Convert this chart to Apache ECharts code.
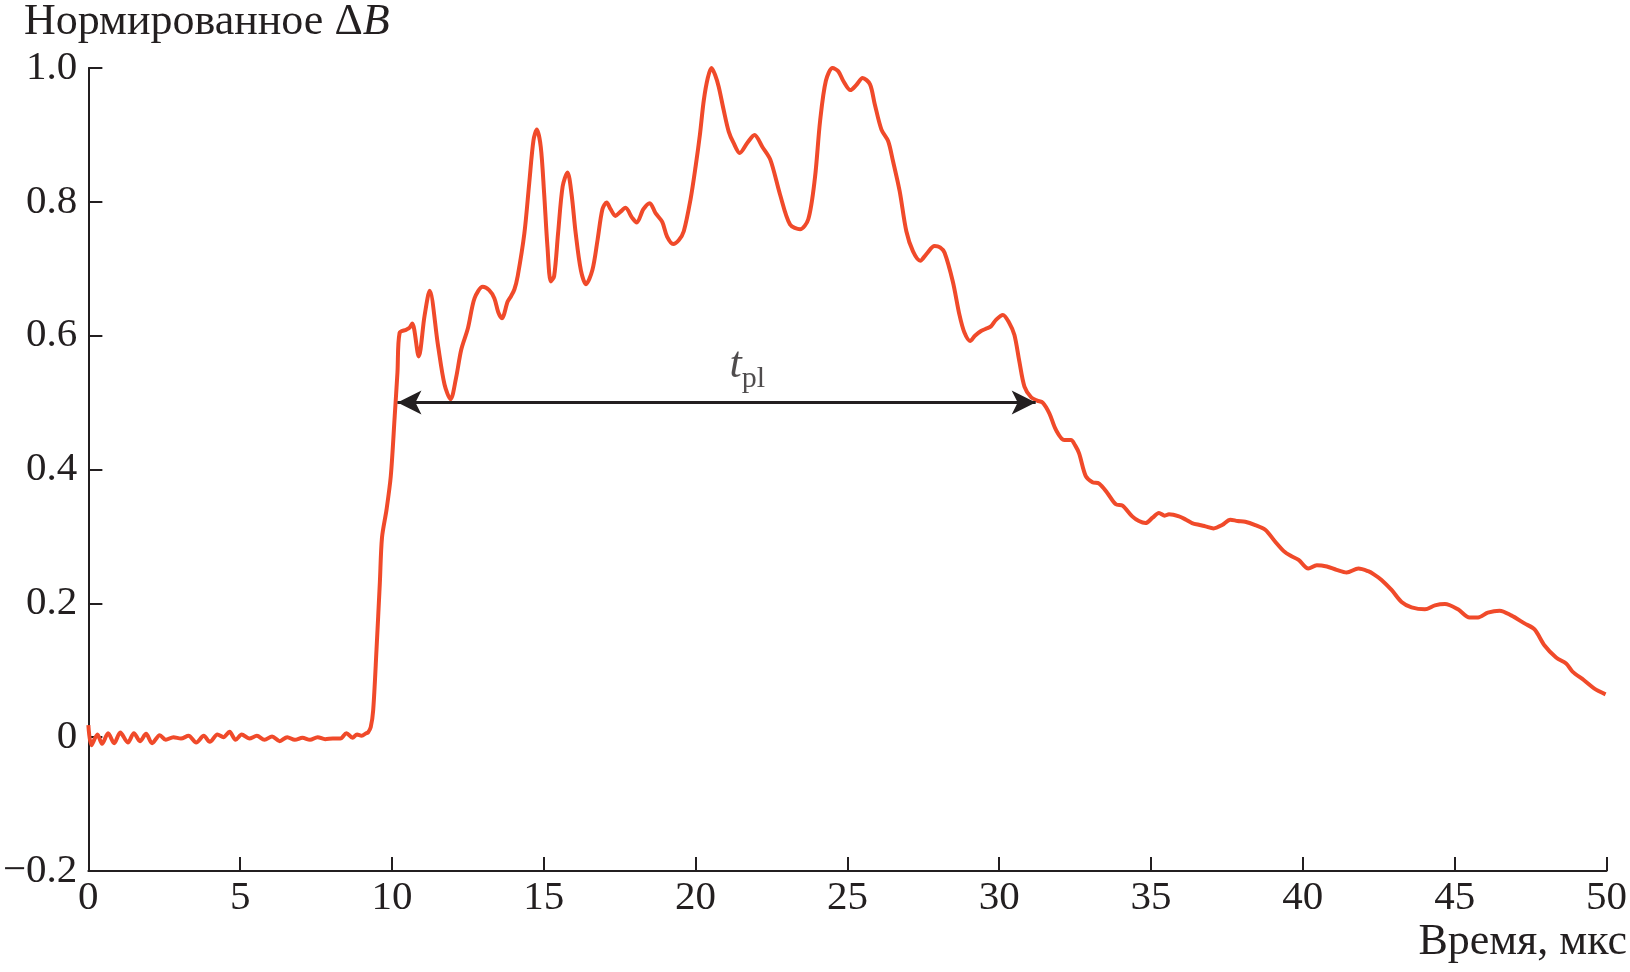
<!DOCTYPE html>
<html>
<head>
<meta charset="utf-8">
<script src="https://cdn.jsdelivr.net/npm/echarts@6/dist/echarts.min.js"></script>
<style>
html,body{margin:0;padding:0;background:#fff;}
#chart{width:1630px;height:972px;}
</style>
</head>
<body>
<div id="chart"></div>
<script>
// Time, µs
var timeUs = [
  0, 0.1, 0.3, 0.45, 0.65, 0.85, 1.05, 1.3, 1.5, 1.7, 1.9, 2.1, 2.35, 2.55, 2.8, 3.05, 3.3, 3.55, 3.8, 4.0,
  4.25, 4.45, 4.65, 4.85, 5.05, 5.3, 5.55, 5.8, 6.05, 6.3, 6.55, 6.8, 7.05, 7.3, 7.55, 7.8, 8.05, 8.3, 8.5, 8.7,
  8.85, 9.0, 9.15,
  9.21, 9.3, 9.38, 9.49, 9.6, 9.67, 9.82, 9.96, 10.09, 10.18, 10.25, 10.47, 10.58, 10.67, 10.88, 11.07, 11.24,
  11.51, 11.73, 11.93, 12.11, 12.28, 12.5, 12.72, 12.99, 13.2, 13.37, 13.5, 13.62, 13.81, 13.92, 14.03, 14.14,
  14.36, 14.52, 14.66, 14.77, 14.9, 15.01, 15.12, 15.23, 15.34, 15.47, 15.62, 15.78, 15.91, 16.05, 16.22, 16.39,
  16.6, 16.77, 16.93, 17.07, 17.2, 17.36, 17.52, 17.69, 17.91, 18.06, 18.28, 18.49, 18.68, 18.9, 19.06, 19.26,
  19.45, 19.61, 19.83, 20.0, 20.14, 20.27, 20.4, 20.52, 20.64, 20.76, 20.92, 21.09, 21.25, 21.45, 21.7, 21.94,
  22.2, 22.46, 22.78, 23.11, 23.44, 23.71, 23.93, 24.1, 24.29, 24.51, 24.7, 24.86, 25.1, 25.3, 25.5, 25.74,
  25.9, 26.12, 26.34, 26.5, 26.72, 26.94, 27.16, 27.4, 27.6, 27.87, 28.05, 28.2, 28.47, 28.69, 28.85, 29.04,
  29.2, 29.4, 29.6, 29.73, 29.9, 30.12, 30.33, 30.5, 30.66, 30.83, 31.05, 31.25, 31.43, 31.65, 31.87, 32.14,
  32.36, 32.5, 32.63, 32.85, 33.07, 33.29, 33.56, 33.84, 34.06, 34.38, 34.6, 34.82, 35.05, 35.26, 35.45, 35.59,
  35.92, 36.15, 36.35, 36.6, 36.79, 37.06, 37.34, 37.61, 37.85, 38.1, 38.43, 38.76, 39.09, 39.37, 39.6, 39.86,
  40.18, 40.46, 40.79, 41.11, 41.44, 41.83, 42.15, 42.35, 42.59, 42.92, 43.25, 43.58, 44.02, 44.35, 44.68, 45.11,
  45.49, 45.77, 46.09, 46.48, 46.86, 47.3, 47.63, 47.96, 48.34, 48.67, 48.88, 49.26, 49.59, 49.97
];
// Normalized ΔB
var deltaB = [
  0.018, -0.012, 0.004, -0.010, 0.006, -0.009, 0.007, -0.008, 0.006, -0.006, 0.005, -0.009, 0.003, -0.004, 0.000, -0.002, 0.002, -0.008, 0.002, -0.007,
  0.004, 0.000, 0.008, -0.004, 0.004, -0.002, 0.002, -0.004, 0.001, -0.006, 0.000, -0.004, -0.001, -0.004, 0.000, -0.003, -0.002, -0.002, 0.006, -0.001,
  0.004, 0.002, 0.006,
  0.007, 0.015, 0.040, 0.131, 0.231, 0.298, 0.340, 0.390, 0.480, 0.545, 0.604, 0.609, 0.612, 0.618, 0.569, 0.629, 0.667,
  0.587, 0.527, 0.505, 0.537, 0.579, 0.611, 0.656, 0.673, 0.668, 0.656, 0.635, 0.626, 0.651, 0.659, 0.669, 0.689,
  0.753, 0.828, 0.892, 0.908, 0.882, 0.813, 0.733, 0.681, 0.689, 0.753, 0.823, 0.844, 0.813, 0.753, 0.698, 0.677,
  0.698, 0.743, 0.789, 0.799, 0.789, 0.779, 0.785, 0.791, 0.776, 0.769, 0.789, 0.798, 0.783, 0.770, 0.748, 0.737,
  0.743, 0.756, 0.803, 0.853, 0.900, 0.952, 0.985, 1.000, 0.990, 0.972, 0.938, 0.905, 0.888, 0.873, 0.888, 0.900,
  0.882, 0.863, 0.811, 0.766, 0.759, 0.774, 0.836, 0.921, 0.981, 1.000, 0.995, 0.981, 0.967, 0.975, 0.985, 0.976,
  0.946, 0.908, 0.891, 0.861, 0.816, 0.756, 0.726, 0.712, 0.722, 0.734, 0.732, 0.724, 0.681, 0.631, 0.605, 0.592,
  0.600, 0.607, 0.611, 0.614, 0.624, 0.631, 0.619, 0.601, 0.562, 0.524, 0.508, 0.503, 0.500, 0.484, 0.459, 0.444,
  0.444, 0.436, 0.424, 0.390, 0.381, 0.379, 0.365, 0.348, 0.346, 0.330, 0.323, 0.320, 0.328, 0.335, 0.331, 0.333,
  0.330, 0.325, 0.320, 0.317, 0.315, 0.312, 0.317, 0.325, 0.323, 0.322, 0.317, 0.310, 0.292, 0.278, 0.271, 0.265,
  0.252, 0.257, 0.255, 0.250, 0.246, 0.252, 0.248, 0.243, 0.235, 0.220, 0.202, 0.194, 0.191, 0.197, 0.199, 0.191,
  0.179, 0.179, 0.186, 0.189, 0.182, 0.170, 0.161, 0.137, 0.119, 0.110, 0.098, 0.085, 0.073, 0.064
];
// Axis ticks
var xTicks = [0, 5, 10, 15, 20, 25, 30, 35, 40, 45, 50];
var yTicks = [-0.2, 0, 0.2, 0.4, 0.6, 0.8, 1.0];
// Plateau duration t_pl (µs) at level 0.5
var plateauStart = 10.18;
var plateauEnd = 31.2;
var plateauLevel = 0.5;

var seriesData = timeUs.map(function (t, i) { return [t, deltaB[i]]; });

var FONT = '"Liberation Serif", "Times New Roman", serif';
var FS = 41;
var FT = 44;
var INK = '#231f20';
var chart = echarts.init(document.getElementById('chart'), null, {renderer: 'canvas'});

chart.setOption({
  backgroundColor: '#ffffff',
  animation: false,
  title: [
    {
      text: '{a|Нормированное Δ}{b|B}',
      left: 24, top: 0, padding: 0,
      textStyle: {
        fontWeight: 'normal',
        rich: {
          a: {fontFamily: FONT, fontSize: FT, fontWeight: 'normal', color: INK},
          b: {fontFamily: FONT, fontSize: FT, fontWeight: 'normal', color: INK, fontStyle: 'italic'}
        }
      }
    },
    {
      text: 'Время, мкс',
      right: 3, top: 920, padding: 0,
      textStyle: {fontFamily: FONT, fontSize: FT, fontWeight: 'normal', color: INK}
    }
  ],
  grid: {left: 86, right: 21, top: 68, bottom: 101, containLabel: false},
  xAxis: {
    type: 'value', min: xTicks[0], max: xTicks[xTicks.length - 1], interval: 5,
    axisLine: {onZero: false, lineStyle: {color: INK, width: 2}},
    axisTick: {inside: true, length: 14, lineStyle: {color: INK, width: 2}},
    axisLabel: {fontFamily: FONT, fontSize: FS, color: INK, margin: 7},
    splitLine: {show: false}
  },
  yAxis: {
    type: 'value', min: yTicks[0], max: yTicks[yTicks.length - 1], interval: 0.2,
    axisLine: {onZero: false, lineStyle: {color: INK, width: 2}},
    axisTick: {inside: true, length: 14, lineStyle: {color: INK, width: 2}},
    axisLabel: {
      fontFamily: FONT, fontSize: FS, color: INK, margin: 11,
      formatter: function (v) {
        var r = Math.round(v * 10) / 10;
        if (r === 0) return '0';
        if (r < 0) return '\u2212' + Math.abs(r).toFixed(1);
        return r.toFixed(1);
      }
    },
    splitLine: {show: false}
  },
  series: [
    {
      type: 'line',
      data: seriesData,
      showSymbol: false,
      smooth: 0.3,
      lineStyle: {color: '#f04a2a', width: 4},
      z: 3,
      markLine: {
        silent: true,
        symbol: ['arrow', 'arrow'],
        symbolSize: [18, 24],
        label: {show: false},
        lineStyle: {color: INK, width: 3, type: 'solid'},
        data: [[{coord: [plateauStart, plateauLevel]}, {coord: [plateauEnd, plateauLevel]}]],
        z: 4
      }
    },
    {
      type: 'scatter',
      symbolSize: 0,
      silent: true,
      data: [[21.7, 0.555]],
      label: {
        show: true, position: 'inside',
        formatter: '{t|t}{s|pl}',
        rich: {
          t: {fontFamily: FONT, fontSize: FT, fontStyle: 'italic', color: INK},
          s: {fontFamily: FONT, fontSize: 30, color: INK, padding: [26, 0, 0, 0]}
        }
      }
    }
  ]
});
</script>
</body>
</html>
